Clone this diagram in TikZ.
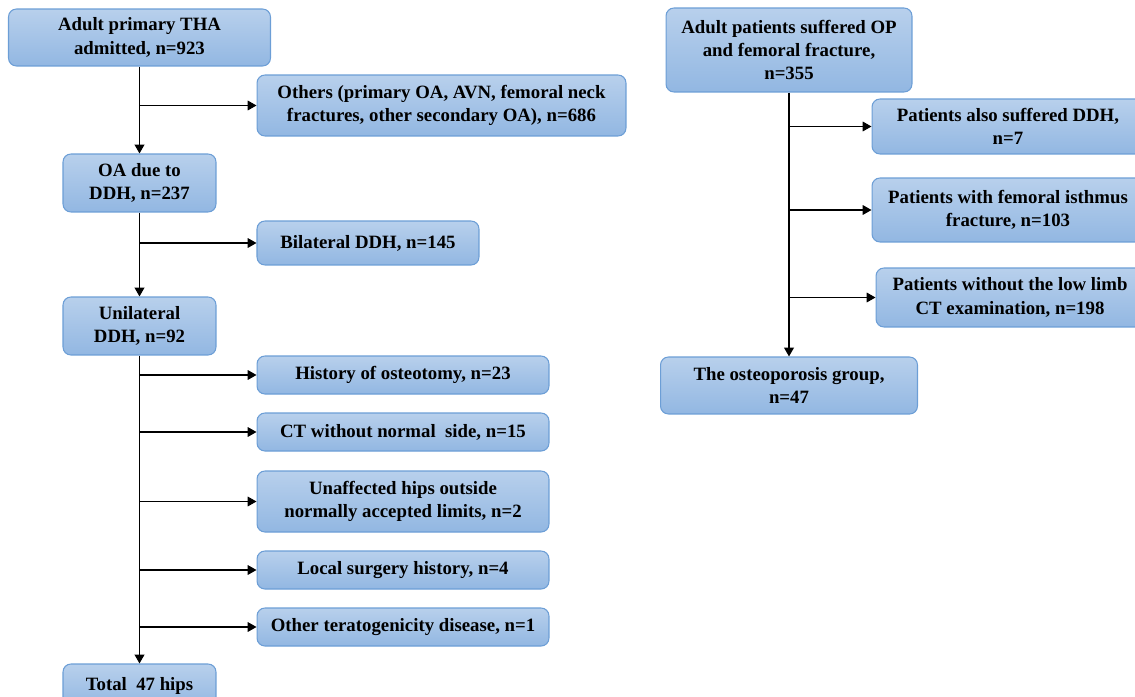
\documentclass[tikz,border=0pt]{standalone}
\usepackage{fontspec}
\setmainfont{Liberation Serif}
\usetikzlibrary{arrows.meta, positioning, calc}
\definecolor{bord}{RGB}{108,158,214}
\definecolor{haut}{RGB}{184,208,236}
\definecolor{bas}{RGB}{146,183,226}

\begin{document}
\begin{tikzpicture}[x=0.02cm, y=-0.02cm, >={Triangle[length=5pt, width=5.5pt]},
    bloc/.style={draw=bord, line width=0.6pt, rounded corners=4.5pt, top color=haut, bottom color=bas,
      align=center, inner sep=2pt, font=\fontsize{10.7}{13.2}\selectfont\bfseries},
    fleche/.style={->, line width=0.85pt},
    branche/.style={->, line width=0.65pt}]
  \clip (0,0) rectangle (1135,696);

  \node[bloc, minimum width=5.24cm, minimum height=1.14cm] (A) at (139.5,37.5) {Adult primary THA\\admitted, n=923};
  \node[bloc, minimum width=7.38cm, minimum height=1.22cm] (O) at (441.5,105.5) {Others (primary OA, AVN, femoral neck\\fractures, other secondary OA), n=686};
  \node[bloc, minimum width=3.06cm, minimum height=1.16cm] (OA) at (139.5,183) {OA due to\\DDH, n=237};
  \node[bloc, minimum width=4.44cm, minimum height=0.88cm] (Bi) at (368,243) {Bilateral DDH, n=145};
  \node[bloc, minimum width=3.06cm, minimum height=1.16cm] (U) at (139.5,326) {Unilateral\\DDH, n=92};
  \node[bloc, minimum width=5.84cm, minimum height=0.76cm] (H1) at (403,375) {History of osteotomy, n=23};
  \node[bloc, minimum width=5.84cm, minimum height=0.76cm] (H2) at (403,432) {CT without normal\ \ side, n=15};
  \node[bloc, minimum width=5.84cm, minimum height=1.22cm] (H3) at (403,501.5) {Unaffected hips outside\\normally accepted limits, n=2};
  \node[bloc, minimum width=5.84cm, minimum height=0.76cm] (H4) at (403,570) {Local surgery history, n=4};
  \node[bloc, minimum width=5.84cm, minimum height=0.76cm] (H5) at (403,627) {Other teratogenicity disease, n=1};
  \node[bloc, minimum width=3.06cm, minimum height=0.88cm] (T) at (139.5,686) {Total\ \ 47 hips};

  \node[bloc, minimum width=4.92cm, minimum height=1.68cm] (P) at (789,50) {Adult patients suffered OP\\and femoral fracture,\\n=355};
  \node[bloc, minimum width=5.44cm, minimum height=1.10cm] (R1) at (1008,126.5) {Patients also suffered DDH,\\n=7};
  \node[bloc, minimum width=5.44cm, minimum height=1.28cm] (R2) at (1008,210) {Patients with femoral isthmus\\fracture, n=103};
  \node[bloc, minimum width=5.36cm, minimum height=1.18cm] (R3) at (1010,297.5) {Patients without the low limb\\CT examination, n=198};
  \node[bloc, minimum width=5.14cm, minimum height=1.14cm] (G) at (789,385.5) {The osteoporosis group,\\n=47};

  \draw[fleche] (A) -- (OA);
  \draw[branche] (A.south |- O.west) -- (O.west);
  \draw[fleche] (OA) -- (U);
  \draw[branche] (OA.south |- Bi.west) -- (Bi.west);
  \draw[fleche] (U) -- (T);
  \draw[branche] (U.south |- H1.west) -- (H1.west);
  \draw[branche] (U.south |- H2.west) -- (H2.west);
  \draw[branche] (U.south |- H3.west) -- (H3.west);
  \draw[branche] (U.south |- H4.west) -- (H4.west);
  \draw[branche] (U.south |- H5.west) -- (H5.west);

  \draw[fleche] (P) -- (G);
  \draw[branche] (P.south |- R1.west) -- (R1.west);
  \draw[branche] (P.south |- R2.west) -- (R2.west);
  \draw[branche] (P.south |- R3.west) -- (R3.west);
\end{tikzpicture}
\end{document}
